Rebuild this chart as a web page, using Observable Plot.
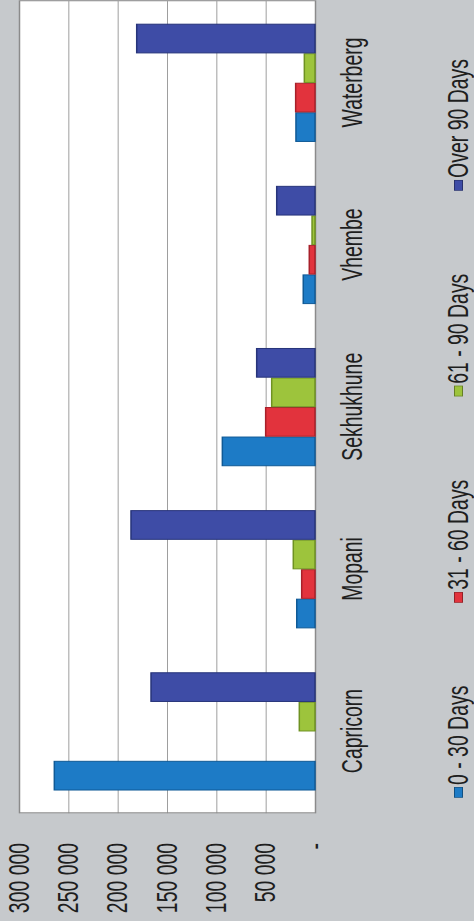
<!DOCTYPE html>
<html>
<head>
<meta charset="utf-8">
<script src="https://cdn.jsdelivr.net/npm/d3@7"></script>
<script src="https://cdn.jsdelivr.net/npm/@observablehq/plot@0.6"></script>
<style>
  html, body { margin: 0; padding: 0; background: #c6c9cc; overflow: hidden; width: 474px; height: 921px; }
  #wrap { position: absolute; left: 0; top: 0; width: 1375px; height: 474px;
          transform-origin: 0 0; transform: translate(0px, 921px) rotate(-90deg) scaleX(0.67); }
  #leg { position: absolute; left: 184px; top: 444px; height: 28px; white-space: nowrap;
         font-family: 'Liberation Sans', Arial, sans-serif; font-size: 29px; line-height: 28px; color: #1e1e1e; }
  .item { display: inline-flex; align-items: center; height: 28px; margin-right: 124px; vertical-align: top; }
  .sw { display: inline-block; width: 16px; height: 9px; margin-right: 3px; box-sizing: border-box; border: 1px solid rgba(0,0,0,0.35); }
</style>
</head>
<body>
<div id="wrap"><div id="chart"></div><div id="leg"></div></div>
<script>
const categories = ["Capricorn", "Mopani", "Sekhukhune", "Vhembe", "Waterberg"];
const series = ["0 - 30 Days", "31 - 60 Days", "61 - 90 Days", "Over 90 Days"];
const days0to30   = [264200, 18500, 93900, 11900, 19300];
const days31to60  = [0, 13500, 50000, 5800, 19600];
const days61to90  = [15900, 22000, 43900, 3000, 10800];
const daysOver90  = [166200, 186500, 59100, 38800, 180700];
const yTicks = [0, 50000, 100000, 150000, 200000, 250000, 300000];
const colors = ["#1d7bc6", "#e2333d", "#9dc43c", "#3e4ca6"];
const strokes = ["#105a96", "#a8202a", "#6f9222", "#27347a"];

const seriesValues = [days0to30, days31to60, days61to90, daysOver90];
const data = series.flatMap((s, j) =>
  categories.map((c, i) => ({category: c, series: s, value: seriesValues[j][i]})));

const W = 1375, H = 400, ML = 161, MR = 2, MT = 19, MB = 85;
const pInner = 0.273, pOuter = 0.1365;
const step = (W - ML - MR) / (categories.length - pInner + 2 * pOuter);
const bw = step * (1 - pInner);
const barW = bw / series.length;

const fmt = d => d === 0 ? "-" : d3.format(",")(d).replace(/,/g, " ");
const font = "'Liberation Sans', Arial, sans-serif";

const chart = Plot.plot({
  width: W, height: H,
  marginLeft: ML, marginRight: MR, marginTop: MT, marginBottom: MB,
  style: {fontFamily: font, fontSize: "29px", color: "#1e1e1e", background: "transparent", overflow: "visible"},
  x: {domain: categories, paddingInner: pInner, paddingOuter: pOuter, label: null},
  y: {domain: [0, 300000], label: null},
  color: {domain: series, range: colors},
  marks: [
    Plot.frame({fill: "white", stroke: "#8c8c8c", strokeWidth: 1.5}),
    Plot.gridY(yTicks, {stroke: "#8a8a8a", strokeOpacity: 1, strokeWidth: 1}),
    ...series.map((s, j) => Plot.barY(data.filter(d => d.series === s && d.value > 0), {
      x: "category", y: "value", fill: "series",
      stroke: strokes[j], strokeWidth: 1.5,
      insetLeft: j * barW + 0.5, insetRight: (series.length - 1 - j) * barW + 0.5
    })),
    Plot.axisY(yTicks, {tickSize: 0, tickPadding: 45, tickFormat: fmt, fontSize: 29}),
    Plot.axisX({tickSize: 0, tickPadding: 26, fontSize: 29})
  ]
});
document.getElementById("chart").appendChild(chart);

// Legend (HTML, below the SVG before rotation)
const leg = d3.select("#leg");
series.forEach((s, j) => {
  const it = leg.append("span").attr("class", "item");
  it.append("span").attr("class", "sw").style("background", colors[j]);
  it.append("span").text(s);
});
</script>
</body>
</html>
